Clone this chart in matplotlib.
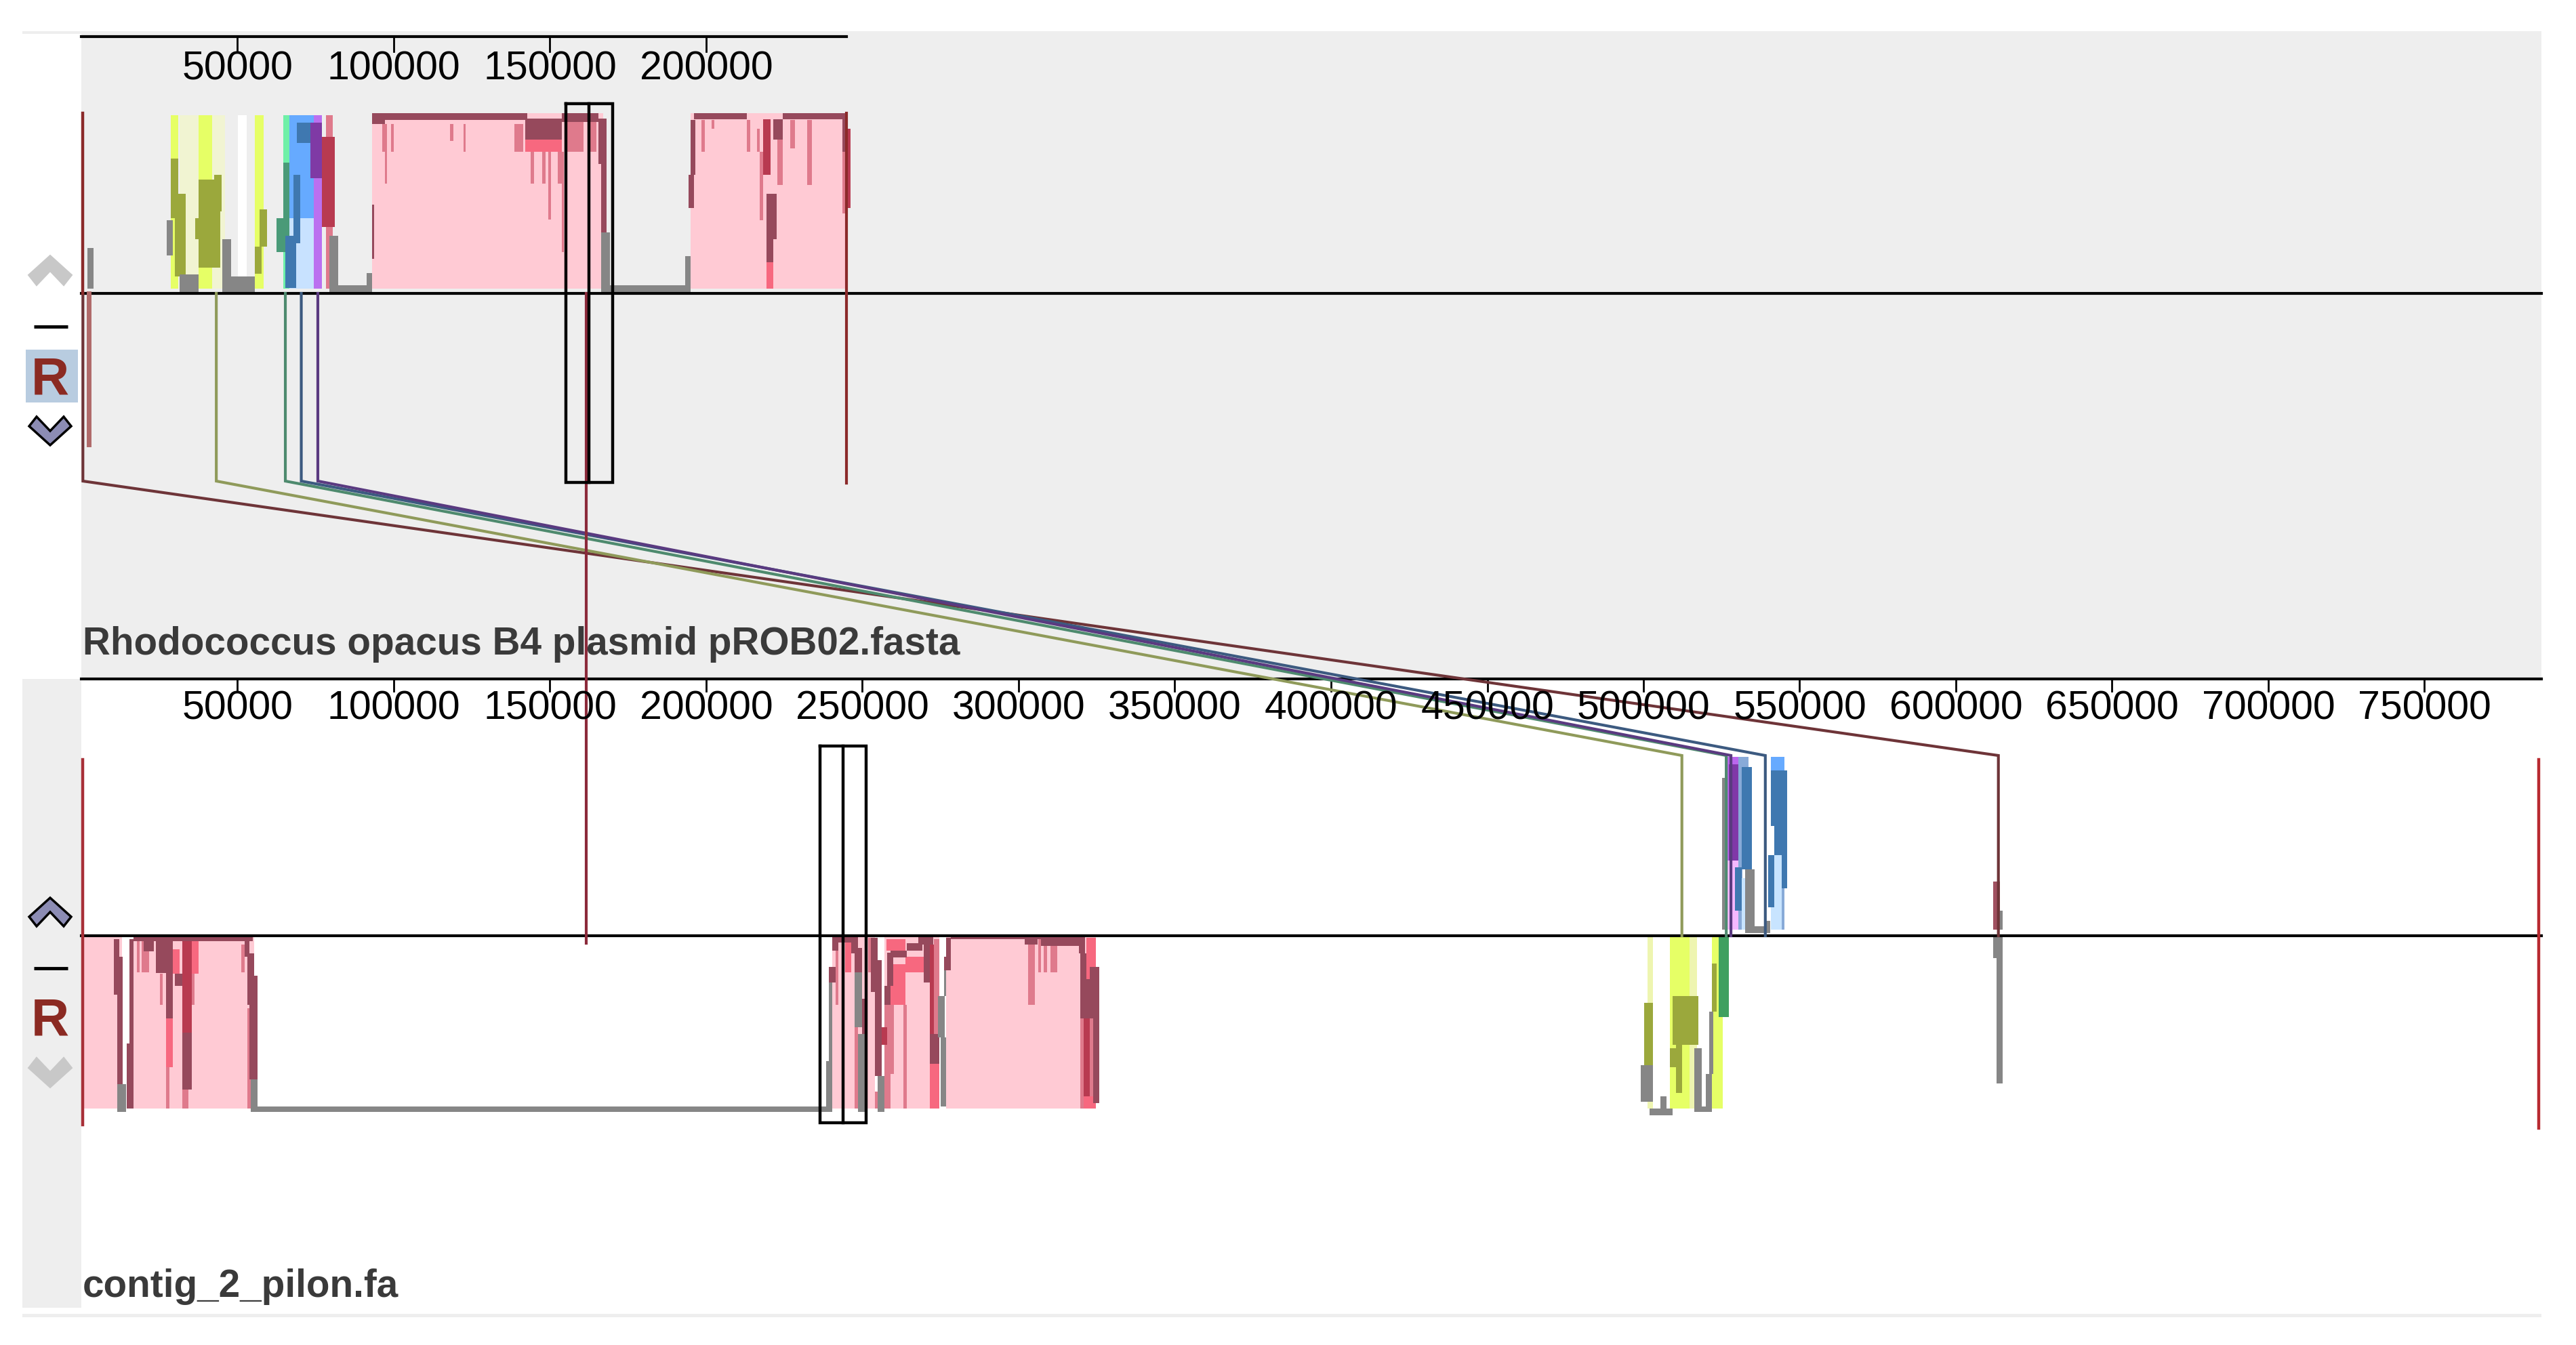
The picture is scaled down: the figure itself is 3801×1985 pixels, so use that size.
import matplotlib
matplotlib.use('Agg')
import matplotlib.pyplot as plt
from matplotlib.patches import Polygon, Rectangle

plt.rcParams['font.family'] = ['Liberation Sans', 'DejaVu Sans']

W, H = 3801, 1985
X0, PX_PER_BP, X_END = 120, 0.00461, 3750

# axis ticks (bp)
top_ticks = [50000, 100000, 150000, 200000]
bottom_ticks = [50000 * i for i in range(1, 16)]
top_genome_end = 245000

top_name = 'Rhodococcus opacus B4 plasmid pROB02.fasta'
bottom_name = 'contig_2_pilon.fa'

# LCB connectors: position in top genome -> position in contig (bp)
link_top = [500, 43200, 65300, 70400, 75700]
link_bottom = [613600, 512300, 526500, 539000, 528000]
link_colors = ['#6E3438', '#8F9A5A', '#4E8A6E', '#3C5A80', '#5A3A80']
same_place_link = 161700
selected_top = (155000, 162400, 170000)
selected_bottom = (236400, 243800, 251200)

# similarity profile pieces: (start kb, end kb, low %, high %)
# upper panel
top_pink = [(93, 167, 0, 100), (195.1, 244.9, 0, 100)]
top_pale = [(31.4, 37.6, 0, 99), (41.8, 45.9, 0, 99)]
top_white = [(50.1, 52.9, 0, 99)]
top_yellow = [(28.6, 31, 0, 99), (37.6, 41.8, 0, 99), (55.6, 58.4, 0, 99)]
top_green = [(64.6, 66.7, 0, 99)]
top_blue = [(66.7, 74.3, 40, 99)]
top_lblue = [(66.7, 74.3, 0, 40)]
top_purple = [(74.3, 77, 0, 99)]
top_mid = [(78.4, 80.5, 0, 99), (96.4, 97.1, 78, 94), (97.1, 97.8, 60, 94),
           (99.2, 99.9, 78, 94), (117.9, 119, 84, 94), (122.3, 123.1, 78, 94),
           (138.6, 141.4, 78, 94), (143.9, 144.9, 60, 78), (147.6, 148.6, 60, 78),
           (149.4, 150.4, 39.5, 78), (152.5, 153.8, 60, 78), (153.8, 154.5, 21, 78),
           (155.2, 160.8, 78, 95), (162.1, 164.9, 78, 95), (198.5, 199.5, 78, 96),
           (201.7, 202.7, 91, 96), (213, 214.2, 78, 96), (216.2, 217.2, 78, 91),
           (217.2, 218.3, 39, 78), (222.8, 224.5, 59, 85), (226.9, 228.5, 80, 96),
           (232.4, 233.8, 59, 96), (243.5, 244.6, 43, 78)]
top_strong = [(142.1, 153.8, 78, 88), (219.3, 221.4, 0, 15)]
top_crimson = [(77, 81.2, 35, 86.5), (218.3, 220.7, 64.7, 96.6), (244.9, 246.3, 46, 91)]
top_dark = [(93, 93.8, 17, 48), (93, 97.1, 94, 100), (97.1, 142.8, 96, 100),
            (142.1, 153.8, 85, 97), (153.8, 165.6, 95, 100), (165.6, 168.1, 71, 97),
            (166.3, 168.1, 32, 71), (194.4, 196.2, 46, 65), (195.1, 196.5, 65, 96),
            (196.2, 213, 96.6, 100), (224.5, 244.9, 96.6, 100), (219.3, 222.5, 28, 54),
            (219.3, 221.4, 15, 28), (221.5, 224.5, 85, 96.6), (243.5, 244.9, 78, 96.6)]
top_olive = [(28.6, 31, 40, 74), (30, 33.5, 7, 54), (37.6, 44.5, 12, 62),
             (42.5, 44.8, 44, 65), (36.5, 38.3, 28, 40), (57, 59.5, 24, 45),
             (55.6, 57.7, 8.5, 24)]
top_dgreen = [(64.6, 66.7, 28, 72), (62.5, 65.3, 21, 40)]
top_dblue = [(69, 74.3, 83, 94.5), (68, 70.1, 26, 65), (65.3, 68.8, 0.5, 30)]
top_dpurple = [(73.3, 77, 63, 94.5)]
top_gray = [(2, 4, 0, 23), (27.3, 29.3, 19, 39), (31.4, 37.6, -2, 8), (45.2, 48, -2, 28),
            (45.9, 55.6, -2, 7), (79.4, 82.2, -2, 30), (82.2, 92.3, -2, 2), (91.3, 93, -2, 9),
            (166.3, 169.1, -2, 32), (169.1, 195, -2, 2), (193.3, 195.1, 0, 18.6)]

# lower panel, forward strand
up_lpurple = [(526, 530.4, 0, 40)]
up_purple = [(526, 530.4, 40, 100)]
up_mblue = [(530.4, 531.7, 0, 100), (531.7, 533.6, 90, 100), (544.2, 545.2, 0, 24)]
up_lblue = [(531.4, 533.6, 0, 30), (541.8, 544.2, 0, 60), (540.8, 541.8, 0, 13)]
up_blue = [(540.8, 545.2, 92, 100)]
up_dblue = [(531.4, 534.8, 35, 94), (529.3, 531.4, 11, 36), (540.8, 546, 60, 92),
            (539.9, 541.8, 13, 43), (544.2, 546, 24, 60), (541.8, 544.2, 43, 60)]
up_dpurple = [(527.3, 530.4, 40, 95.5)]
up_dark = [(612, 614, 0, 28)]
up_gray = [(532.6, 535.5, -2, 35), (533.6, 540.4, -2, 2), (538.9, 540.6, -2, 5),
           (613.9, 615, 0, 11), (525.2, 526, 0, 88)]

# lower panel, reverse strand
down_pink = [(0.5, 13, 0, 100), (16.6, 55.3, 0, 100), (240.3, 254, 0, 100),
             (257, 274.6, 0, 100), (276.8, 324.7, 0, 100)]
down_pale = [(501.2, 503.1, 0, 100), (514.7, 517.1, 0, 100)]
down_yellow = [(508.4, 514.7, 0, 100), (522, 525.3, 0, 100)]
down_mid = [(17.7, 18.6, 79, 97), (19.4, 21.8, 79, 97), (25.1, 26, 60, 78),
            (27.1, 28.2, 0, 24), (32.4, 34.3, 0, 11), (35, 36.2, 60, 78),
            (51.2, 52.3, 79, 95), (53.1, 54.2, 0, 58), (241.4, 242.3, 60, 91.5),
            (247.6, 248.6, 0, 47), (251.8, 252.8, 79, 98.7), (254, 254.9, 0, 10),
            (257, 259.1, 0, 60), (259.1, 260, 20, 60), (263.2, 264.2, 0, 60),
            (272.8, 274.6, 43, 98), (303, 305.1, 60, 98), (306.3, 307.2, 79, 98),
            (308.1, 309.1, 79, 98), (310.3, 312.4, 79, 98), (319.8, 320.8, 0, 52),
            (322.8, 323.9, 3.5, 52)]
down_strong = [(27.1, 29.3, 24, 52), (29.3, 31.5, 78, 92), (34.8, 37.6, 78, 97),
               (244.5, 246.5, 79, 96), (257.8, 263.8, 91.5, 98), (258.9, 263.8, 60, 83.5),
               (263.8, 269.6, 79, 88), (271.6, 274.6, 0, 26), (320.8, 324.7, 0, 7),
               (321.7, 324.7, 75, 99)]
down_crimson = [(32.4, 35.4, 44, 98), (256.1, 257.9, 37, 47), (271.6, 272.8, 31.5, 95),
                (320.8, 322.8, 7, 52)]
down_dark = [(10.5, 12.2, 66, 98), (11.6, 13.3, 14, 88), (14.6, 16.6, 0, 37.5),
             (15.5, 16.8, 37, 98), (19.9, 23.2, 91, 98), (23.8, 29.3, 78.6, 98),
             (27.1, 29.3, 52, 92), (29.9, 32.4, 71, 78), (32.4, 35.4, 11, 44),
             (16.6, 38, 97, 100), (38, 54.8, 97, 100), (52.3, 53.9, 88, 97),
             (53.7, 56.4, 17, 77), (53.1, 55.3, 60, 90),
             (239.3, 241.4, 73, 82), (240.3, 242.4, 91.5, 99), (240.3, 248.6, 96, 100),
             (246.5, 248.6, 90, 96), (247.6, 249.8, 79, 93), (249.8, 250.8, 43, 63.5),
             (252.8, 254.9, 67.5, 99), (254, 256.1, 19, 86), (258, 259.9, 71, 90),
             (257, 259.1, 60, 71), (259.1, 264.2, 87.5, 91.5), (264.2, 269.2, 91.5, 95.5),
             (268, 272.6, 95, 100), (269.6, 271.6, 73, 95), (271.6, 274.6, 26, 43),
             (276.2, 278.2, 80, 88), (276.8, 278.2, 88, 99), (278.2, 321.3, 98, 100),
             (302, 306.1, 95, 98), (307.2, 321.3, 94, 98), (319.3, 321.3, 90, 94),
             (319.8, 325.9, 52, 75), (319.8, 321.7, 75, 90), (323.9, 325.9, 3, 52),
             (322.8, 325.9, 75, 82)]
down_olive = [(500.2, 503.1, 25, 61), (509.4, 517.6, 37, 65), (510.4, 512.3, 9, 37),
              (508.4, 510.4, 24, 35), (522, 523.4, 56, 84)]
down_dgreen = [(524, 527.3, 53, 100)]
down_gray = [(11.6, 14.4, -2, 14), (54.2, 56.4, -2, 17), (56.4, 238.4, -2, 1),
             (238.4, 240.3, -2, 27.5), (239.3, 240.3, 27, 73), (247.6, 249.8, 47, 79),
             (248.6, 250.9, -2, 43), (254.9, 257, -2, 19), (274.2, 276.3, 41, 65),
             (275, 276.8, 1, 41), (276.2, 276.8, 65, 80), (499.2, 503.1, 4, 25),
             (502, 509.4, -4, 0), (505.5, 507.4, -4, 7), (516.2, 518.6, -2, 35),
             (517.2, 522, -2, 1), (520, 522, -2, 20), (521, 522.4, 20, 56),
             (612, 615, 87, 100), (613, 615, 14.5, 87)]


def px_to_bp(px):
    return (px - X0) / PX_PER_BP


def overlay(zorder, ylim):
    ax = fig.add_axes([0, 0, 1, 1], zorder=zorder)
    ax.patch.set_visible(False)
    ax.axis('off')
    ax.set_xlim(px_to_bp(0), px_to_bp(W))
    ax.set_ylim(*ylim)
    return ax


def track(zorder, base_px, full_px):
    # similarity 0 sits at base_px, 100 at full_px
    scale = 100 / (base_px - full_px)
    return overlay(zorder, ((base_px - H) * scale, base_px * scale))


def draw(ax, pieces, color):
    starts = [p[0] * 1000 for p in pieces]
    widths = [(p[1] - p[0]) * 1000 for p in pieces]
    lows = [p[2] for p in pieces]
    heights = [p[3] - p[2] for p in pieces]
    ax.bar(starts, heights, width=widths, bottom=lows, align='edge', color=color, linewidth=0)


def chevron(ax, cx, cy, up, fill, edge):
    s = -1 if up else 1
    pts = [(cx - 31, cy - s * 6), (cx - 20, cy - s * 20), (cx, cy + s * 1), (cx + 20, cy - s * 20),
           (cx + 31, cy - s * 6), (cx, cy + s * 22)]
    ax.add_patch(Polygon(pts, closed=True, facecolor=fill, edgecolor=edge, linewidth=2.5))


fig = plt.figure(figsize=(W / 100, H / 100), dpi=100, facecolor='white')

# window chrome, in pixels
page = fig.add_axes([0, 0, 1, 1], zorder=0)
page.axis('off')
page.set_xlim(0, W)
page.set_ylim(H, 0)
page.add_patch(Rectangle((33, 46), X_END - 33, 4, color='#EEEEEE', lw=0))
page.add_patch(Rectangle((X0, 48), X_END - X0, 952, color='#EEEEEE', lw=0))
page.add_patch(Rectangle((33, 1002), X0 - 33, 928, color='#EEEEEE', lw=0))
page.add_patch(Rectangle((33, 1939), X_END - 33, 5, color='#EEEEEE', lw=0))
page.add_patch(Rectangle((38, 516), 77, 78, color='#B8CCE0', lw=0))
chevron(page, 74, 400, True, '#C8C8C8', '#C8C8C8')
page.plot([50, 100], [482, 482], color='black', lw=3.5, solid_capstyle='butt')
page.text(74, 582, 'R', color='#8B2A22', fontsize=56, fontweight='bold', ha='center', va='baseline')
chevron(page, 74, 635, False, '#8C8CB4', 'black')
chevron(page, 74, 1347, True, '#8C8CB4', 'black')
page.plot([50, 100], [1429, 1429], color='black', lw=3.5, solid_capstyle='butt')
page.text(74, 1527, 'R', color='#8B2A22', fontsize=56, fontweight='bold', ha='center', va='baseline')
chevron(page, 74, 1582, False, '#C8C8C8', '#C8C8C8')

ax_top = track(1, 426, 167)
ax_up = track(2, 1372, 1117)
ax_down = track(3, 1636, 1381)

for pieces, color in [(top_pink, '#FFCAD4'), (top_pale, '#F1F4D2'), (top_white, '#FFFFFF'),
                      (top_yellow, '#E6FF66'), (top_green, '#6FF0A8'), (top_blue, '#66AAFF'),
                      (top_lblue, '#C8E2FF'), (top_purple, '#BB70F0'), (top_mid, '#DF7A8C'),
                      (top_strong, '#F7687F'), (top_crimson, '#B83A50'), (top_dark, '#96495C'),
                      (top_olive, '#9BA83C'), (top_dgreen, '#4A9A78'), (top_dblue, '#3F78B0'),
                      (top_dpurple, '#7F3AA5'), (top_gray, '#868686')]:
    draw(ax_top, pieces, color)

for pieces, color in [(up_lpurple, '#F5B8FF'), (up_purple, '#BB66EE'), (up_mblue, '#88AAD8'),
                      (up_lblue, '#C8E4FF'), (up_blue, '#66AAFF'), (up_dblue, '#3F78B0'),
                      (up_dpurple, '#8038A8'), (up_dark, '#A05060'), (up_gray, '#868686')]:
    draw(ax_up, pieces, color)

for pieces, color in [(down_pink, '#FFCAD4'), (down_pale, '#EEF5B0'), (down_yellow, '#E6FF66'),
                      (down_mid, '#DF7A8C'), (down_strong, '#F7687F'), (down_crimson, '#B83A50'),
                      (down_dark, '#96495C'), (down_olive, '#9BA83C'), (down_dgreen, '#3FA060'),
                      (down_gray, '#868686')]:
    draw(ax_down, pieces, color)

# rulers, centre lines, connectors: x in bp, y in pixels
links = overlay(4, (H, 0))
x_left, x_right = px_to_bp(X0), px_to_bp(X_END)
links.plot([x_left, top_genome_end], [54, 54], color='black', lw=3)
for t in top_ticks:
    links.plot([t, t], [54, 76], color='black', lw=2)
    links.text(t, 117, str(t), fontsize=42.5, ha='center', va='baseline', color='black')
links.plot([x_left, x_right], [1002, 1002], color='black', lw=3)
for t in bottom_ticks:
    links.plot([t, t], [1002, 1020], color='black', lw=2)
    links.text(t, 1062, str(t), fontsize=42.5, ha='center', va='baseline', color='black')
links.plot([x_left, x_right], [433, 433], color='black', lw=3)
links.plot([x_left, x_right], [1381, 1381], color='black', lw=3)

for a, b, c in zip(link_top, link_bottom, link_colors):
    links.plot([a, a, b, b], [433, 710, 1115, 1381], color=c, lw=3, solid_joinstyle='miter')
links.plot([500, 500], [167, 433], color='#8B2A2A', lw=3.2)
links.plot([2400, 2400], [433, 656], color='#B06A6A', lw=5)
links.plot([top_genome_end, top_genome_end], [167, 713], color='#8B2A2A', lw=3)
links.plot([same_place_link, same_place_link], [433, 1392], color='#8B2A3A', lw=3)
links.plot([500, 500], [1121, 1660], color='#A83038', lw=3.2)
links.plot([px_to_bp(3746)] * 2, [1121, 1665], color='#B82A30', lw=3.2)

for (a, m, b), y0, y1 in [(selected_top, 153, 712), (selected_bottom, 1101, 1657)]:
    links.plot([a, b, b, a, a], [y0, y0, y1, y1, y0], color='black', lw=3.2, solid_joinstyle='miter')
    links.plot([m, m], [y0, y1], color='black', lw=3.2)

links.text(x_left + 400, 966, top_name, fontsize=40.8, fontweight='bold', color='#3A3A3A', va='baseline')
links.text(x_left + 400, 1914, bottom_name, fontsize=40.8, fontweight='bold', color='#3A3A3A', va='baseline')

fig.savefig('out.png', dpi=100)
